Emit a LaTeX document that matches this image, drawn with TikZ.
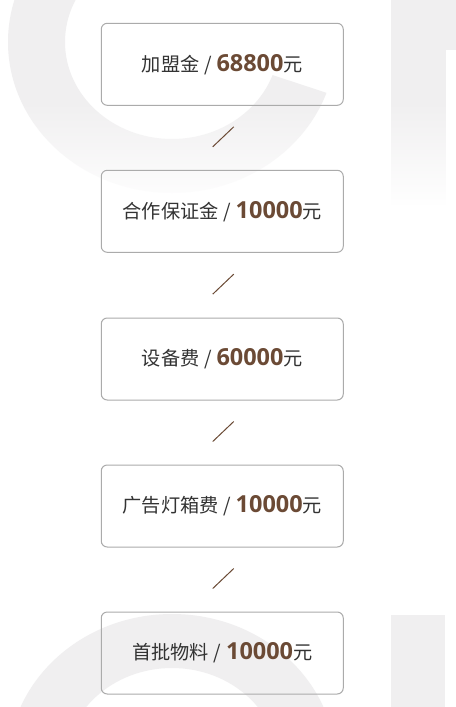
\documentclass[tikz,border=0pt]{standalone}
\usepackage{fontspec}
\newfontfamily\cjk{Noto Sans CJK SC}
\newfontfamily\numfont{Open Sans}
\usetikzlibrary{fadings,calc}
\definecolor{bgg}{HTML}{F0EFF0}
\definecolor{boxline}{HTML}{ABABAB}
\definecolor{txt}{HTML}{333333}
\definecolor{num}{HTML}{6B4A35}
\tikzfading[name=fadeband, top color=transparent!100, bottom color=transparent!0]
\newcommand\amt[1]{{\numfont\bfseries\fontsize{17.6}{19}\selectfont\color{num}#1}}
\newcommand\rowtext[2]{\raisebox{-2.6pt}{#1\hspace{3.6pt}/\hspace{3.6pt}\amt{#2}元}}
\begin{document}
\begin{tikzpicture}[x=0.75pt,y=-0.75pt,
  stepbox/.style={draw=boxline, line width=0.75pt, rounded corners=4.5pt,
    minimum width=181.5pt, minimum height=61.5pt, inner sep=0pt,
    font=\cjk\fontsize{14.4}{17}\selectfont, text=txt},
  sepline/.style={draw=num, line width=0.75pt}]
\useasboundingbox (0,0) rectangle (456,707);
\fill[white] (0,0) rectangle (456,707);
% background watermark, top
\begin{scope}
  \clip (172,42) -- (637,195) -- (700,800) -- (-300,800) -- (-300,-400) -- ($(172,42)+(325:400)$) -- cycle;
  \fill[bgg, even odd rule] (172,42) ellipse [x radius=164, y radius=151]
                            (172,42) ellipse [x radius=107, y radius=97];
\end{scope}
\fill[bgg] (391,-5) rectangle (446,210);
\fill[bgg] (446,-5) rectangle (461,50);
\fill[white, path fading=fadeband] (-5,100) rectangle (461,206);
\fill[white] (-5,205) rectangle (461,230);
% background watermark, bottom
\fill[bgg, even odd rule] (172,765) ellipse [x radius=164, y radius=151]
                          (172,765) ellipse [x radius=107, y radius=97];
\fill[bgg] (391,615) rectangle (445,712);
% boxes
\node[stepbox] (b1) at (222.25,64.3) {\rowtext{加盟金}{68800}};
\node[stepbox] (b2) at (222.25,211.3) {\rowtext{合作保证金}{10000}};
\node[stepbox] (b3) at (222.25,359) {\rowtext{设备费}{60000}};
\node[stepbox] (b4) at (222.25,506) {\rowtext{广告灯箱费}{10000}};
\node[stepbox] (b5) at (222.25,653) {\rowtext{首批物料}{10000}};
% separators
\foreach \a/\b in {b1/b2,b2/b3,b3/b4,b4/b5}{
  \coordinate (m\a) at ($(\a.south)!0.5!(\b.north)+(1,-1)$);
  \draw[sepline] ($(m\a)+(-10.5,10)$) -- ($(m\a)+(10.5,-10)$);
}
\end{tikzpicture}
\end{document}
